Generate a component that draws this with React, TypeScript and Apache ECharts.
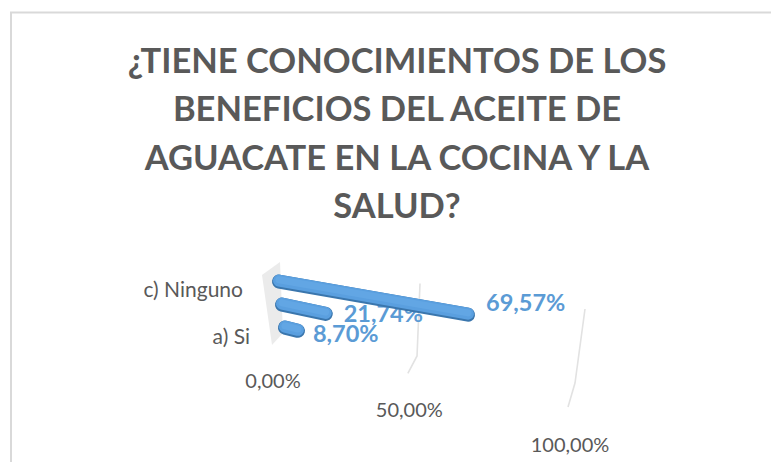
import React, { useEffect, useRef } from "react";
import * as echarts from "echarts";

const titleLines = [
  "¿TIENE CONOCIMIENTOS DE LOS",
  "BENEFICIOS DEL ACEITE DE",
  "AGUACATE EN LA COCINA Y LA",
  "SALUD?",
];
const categories = ["a) Si", "b) Parcialmente", "c) Ninguno"];
const shownCategories = ["a) Si", "c) Ninguno"];
const values = [8.7, 21.74, 69.57];
const valueLabels = ["8,70%", "21,74%", "69,57%"];
const ticks = [0, 50, 100];
const tickLabels = ["0,00%", "50,00%", "100,00%"];

const GREY = "#595959";
const BLUE = "#5b9bd5";
const FONT = "Lato, 'Open Sans', sans-serif";

// Perspective of the 3D chart floor: bends a linear 0..1 position
const bend = (t: number) => 0.836 * t + 0.164 * t * t;
const fraction = (api: any, v: number) => {
  const a = api.coord([0, 0])[0];
  const b = api.coord([100, 0])[0];
  return (api.coord([v, 0])[0] - a) / (b - a);
};

const renderFrame = (_: any, api: any) => {
  const v = api.value(0);
  const f = bend(fraction(api, v));
  const top = [280 + 305 * f, 262 + 47 * f];
  const mid = [283 + 292 * f, 333 + 50 * f];
  const bot = [272 + 296 * f, 345 + 62 * f];
  const children: any[] = [];
  if (v === 0) {
    children.push({
      type: "polygon",
      shape: { points: [[262, 275], top, mid, bot] },
      style: { fill: "#ebebeb", stroke: "none" },
    });
  } else {
    children.push({
      type: "polyline",
      shape: { points: [top, mid, bot] },
      style: { fill: "none", stroke: "#e2e2e2", lineWidth: 1.6 },
    });
  }
  children.push({
    type: "text",
    style: {
      x: 273 + 297 * f,
      y: 380 + 64 * f,
      text: tickLabels[ticks.indexOf(v)],
      fill: GREY,
      font: `400 20px ${FONT}`,
      align: "center",
      verticalAlign: "middle",
    },
  });
  return { type: "group", children };
};

const renderBar = (params: any, api: any) => {
  const v = api.value(0);
  const row = api.value(1);
  const w = api.coord([0, row])[1];
  const d = w - api.coord([0, 2])[1];
  const x0 = api.coord([0, row])[0] + d * 0.13;
  const span = 286 - d * 2.4;
  const slope = 0.175 + d * 0.00163;
  const dx = bend(fraction(api, v)) * span;
  const x1 = x0 + dx;
  const y1 = w + dx * slope;
  const line = (off: number, lineWidth: number, stroke: string) => ({
    type: "line",
    shape: { x1: x0, y1: w + off, x2: x1, y2: y1 + off },
    style: { stroke, lineWidth, lineCap: "round" },
  });
  return {
    type: "group",
    children: [
      line(0.6, 14, "#3a76ad"),
      line(-0.4, 12, "#5a9fdf"),
      line(-1.2, 7, "#62a6e4"),
      {
        type: "text",
        style: {
          x: x1 + [15, 18, 18][row],
          y: y1 + [3, 0, -12][row],
          text: valueLabels[row],
          fill: BLUE,
          font: `700 23.5px ${FONT}`,
          align: "left",
          verticalAlign: "middle",
        },
      },
    ],
  };
};

export default function App() {
  const ref = useRef<HTMLDivElement>(null);
  useEffect(() => {
    const chart = echarts.init(ref.current!, null, { renderer: "svg" });
    chart.setOption({
      animation: false,
      backgroundColor: "#ffffff",
      title: {
        text: titleLines.join("\n"),
        left: 392,
        top: 30,
        textAlign: "center",
        textStyle: {
          color: GREY,
          fontFamily: FONT,
          fontWeight: 700,
          fontSize: 34.5,
          lineHeight: 48.5,
        },
      },
      grid: { left: 279, top: 269.5, width: 300, height: 69 },
      xAxis: { type: "value", min: 0, max: 100, interval: 50, show: false },
      yAxis: {
        type: "category",
        data: categories,
        axisLine: { show: false },
        axisTick: { show: false },
        splitLine: { show: false },
        axisLabel: {
          margin: 29,
          interval: 0,
          formatter: (name: string) =>
            shownCategories.includes(name)
              ? `{${name === "a) Si" ? "near" : "far"}|${name}}`
              : "",
          rich: {
            near: { color: GREY, fontFamily: FONT, fontSize: 21, padding: [16, 0, 0, 0] },
            far: { color: GREY, fontFamily: FONT, fontSize: 21, padding: [14, 7, 0, 0] },
          },
        },
      },
      graphic: [
        {
          type: "polyline",
          shape: { points: [[11, 462], [11, 12.5], [771, 12.5]] },
          style: { fill: "none", stroke: "#d9d9d9", lineWidth: 2 },
        },
      ],
      series: [
        {
          type: "custom",
          renderItem: renderFrame,
          encode: { x: 0 },
          data: ticks.map((t) => [t, 0]),
          z: 1,
        },
        {
          type: "custom",
          renderItem: renderBar,
          encode: { x: 0, y: 1 },
          data: values.map((v, i) => [v, i]),
          z: 2,
        },
      ],
    });
    return () => chart.dispose();
  }, []);
  return (
    <div
      ref={ref}
      style={{ position: "absolute", left: 0, top: 0, width: 771, height: 462 }}
    />
  );
}
